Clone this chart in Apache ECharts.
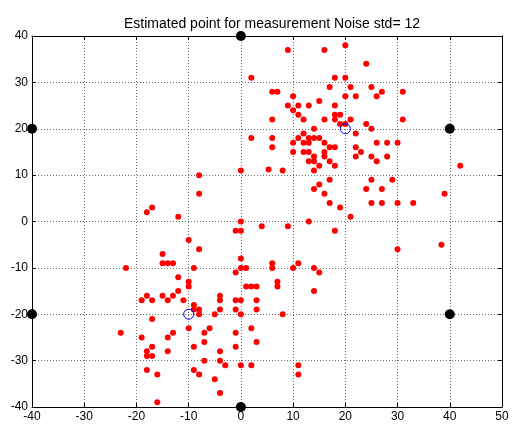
<!DOCTYPE html>
<html>
<head>
<meta charset="utf-8">
<script src="https://cdn.jsdelivr.net/npm/echarts@6/dist/echarts.min.js"></script>
<style>
  html, body { margin: 0; padding: 0; background: #ffffff; }
  #chart { width: 512px; height: 426px; }
</style>
</head>
<body>
<div id="chart"></div>
<script>
// Estimated positions (x, y) from the noisy measurements
const estimates = [
  [9,37],[16,37],[20,38],[24,34],
  [2,31],[18,31],[20,31],
  [17,29],[21,29],[25,29],
  [6,28],[7,28],[27,28],[31,28],
  [10,27],[20,27],[22,27],[26,27],
  [15,26],
  [9,25],[11,25],[13,25],[18,25],
  [10,24],
  [11,23],[18,23],[19,23],
  [6,22],[12,22],[16,22],[18,22],[21,22],[31,22],
  [24,21],[19,21],[20,21],
  [14,20],[25,20],
  [12,19],[22,19],
  [2,18],[6,18],[11,18],[13,18],[14,18],[15,18],
  [10,17],[12,17],[13,17],[16,17],[26,17],[28,17],[30,17],
  [6,16],[17,16],[18,16],[22,16],
  [23,15],[10,15],[12,15],[13,15],[16,15],
  [14,14],[16,14],[22,14],[25,14],[28,14],
  [13,13],[14,13],[17,13],[26,13],
  [15,12],[18,12],[42,12],
  [8,11],[14,11],[5.3,11.2],[0,11],
  [17,9],[25,9],[29,9],
  [15,8],
  [14,7],[24,7],[27,7],
  [16,6],[39,6],
  [17,4],[25,4],[27,4],[30,4],[33,4],
  [19,3],[21,1],[13,0],[9,-1],[18,-2],[30,-6],[38.4,-5],
  [-8,10],[-8,6],[-17,3],[-18,2],[-12,1],[0,0],[-1,-2],[0,-2],[4,-1],
  [-10,-4],[-15,-7],[-8,-6],
  [-15,-9],[-14,-9],[-13,-9],[0,-8],
  [-22,-10],[-9,-10],[0,-10],[1,-10],
  [6,-9],[6,-10],[11,-9],[10,-10],[14,-10],[15,-11],
  [-1,-11],[-12,-12],
  [-10,-13],[-10,-14],[1,-14],[2,-14],[3,-14],[7,-13],[7,-14],
  [-12,-15],[14,-15],
  [-18,-16],[-15,-16],[-13,-16],[-4,-16],
  [-19,-17],[-17,-17],[-14,-17],[-11,-17],[-4,-17],[-1,-17],[0,-17],[3,-17],
  [-9,-18],
  [-9,-19],[-8,-19],[-4,-19],[-1,-19],[3,-19],
  [-8,-20],[-5,-20],[0,-20],[8,-20],
  [-17,-21],
  [-10,-23],[-6,-23],[2,-23],
  [-23,-24],[-13,-24],[-7,-24],[-1,-24],
  [-19,-25],[-14,-25],
  [-7,-26],[3,-26],
  [-17,-27],[-9,-27],[-1,-27],
  [-18,-28],[-14,-28],[-4,-28],
  [-18,-29],[-17,-29],
  [-7,-30],[-4,-30],
  [-3,-31],[0,-31],[2,-31],[11,-31],
  [-18,-32],[-9,-32],
  [-16,-33],[-8,-33],[11,-33],
  [-5,-34],[-4,-37],[-16,-39]
];

// Reference beacons
const beacons = [[-40,20],[-40,-20],[0,40],[0,-40],[40,20],[40,-20]];

// True target positions
const targets = [[20,20],[-10,-20]];

// Axis ranges
const xRange = { min: -40, max: 50, step: 10 };
const yRange = { min: -40, max: 40, step: 10 };

const titleText = 'Estimated point for measurement Noise std= 12';

const font = '"Liberation Sans", Arial, sans-serif';
const chart = echarts.init(document.getElementById('chart'), null, { renderer: 'canvas' });

const gridLine = { show: true, lineStyle: { color: '#6e6e6e', type: [1, 2], width: 1 } };
const boxLine = { show: true, onZero: false, lineStyle: { color: '#000', width: 1 } };
const innerTick = { show: true, inside: true, length: 4, lineStyle: { color: '#000' } };

chart.setOption({
  animation: false,
  backgroundColor: '#ffffff',
  title: {
    text: titleText,
    left: 267,
    textAlign: 'center',
    top: 12,
    textStyle: { fontFamily: font, fontSize: 14, fontWeight: 'normal', color: '#000' }
  },
  grid: { left: 32, right: 10, top: 36, bottom: 19, containLabel: false },
  xAxis: [
    {
      type: 'value', position: 'bottom',
      min: xRange.min, max: xRange.max, interval: xRange.step,
      axisLine: boxLine, axisTick: innerTick, splitLine: gridLine,
      axisLabel: { color: '#000', fontFamily: font, fontSize: 12, margin: 4 }
    },
    {
      type: 'value', position: 'top',
      min: xRange.min, max: xRange.max, interval: xRange.step,
      axisLine: boxLine, axisTick: innerTick, splitLine: { show: false },
      axisLabel: { show: false }
    }
  ],
  yAxis: [
    {
      type: 'value', position: 'left',
      min: yRange.min, max: yRange.max, interval: yRange.step,
      axisLine: boxLine, axisTick: innerTick, splitLine: gridLine,
      axisLabel: { color: '#000', fontFamily: font, fontSize: 12, margin: 4 }
    },
    {
      type: 'value', position: 'right',
      min: yRange.min, max: yRange.max, interval: yRange.step,
      axisLine: boxLine, axisTick: innerTick, splitLine: { show: false },
      axisLabel: { show: false }
    }
  ],
  series: [
    {
      name: 'estimates', type: 'scatter', data: estimates,
      symbol: 'circle', symbolSize: 6, clip: false,
      itemStyle: { color: '#ff0000', opacity: 1 }
    },
    {
      name: 'beacons', type: 'scatter', data: beacons,
      symbol: 'circle', symbolSize: 10, clip: false,
      itemStyle: { color: '#000000', opacity: 1 }
    },
    {
      name: 'targets', type: 'scatter', data: targets,
      symbol: 'circle', symbolSize: 10, clip: false,
      itemStyle: { color: 'transparent', borderColor: '#0000ff', borderWidth: 1, opacity: 1 }
    }
  ]
});
</script>
</body>
</html>
